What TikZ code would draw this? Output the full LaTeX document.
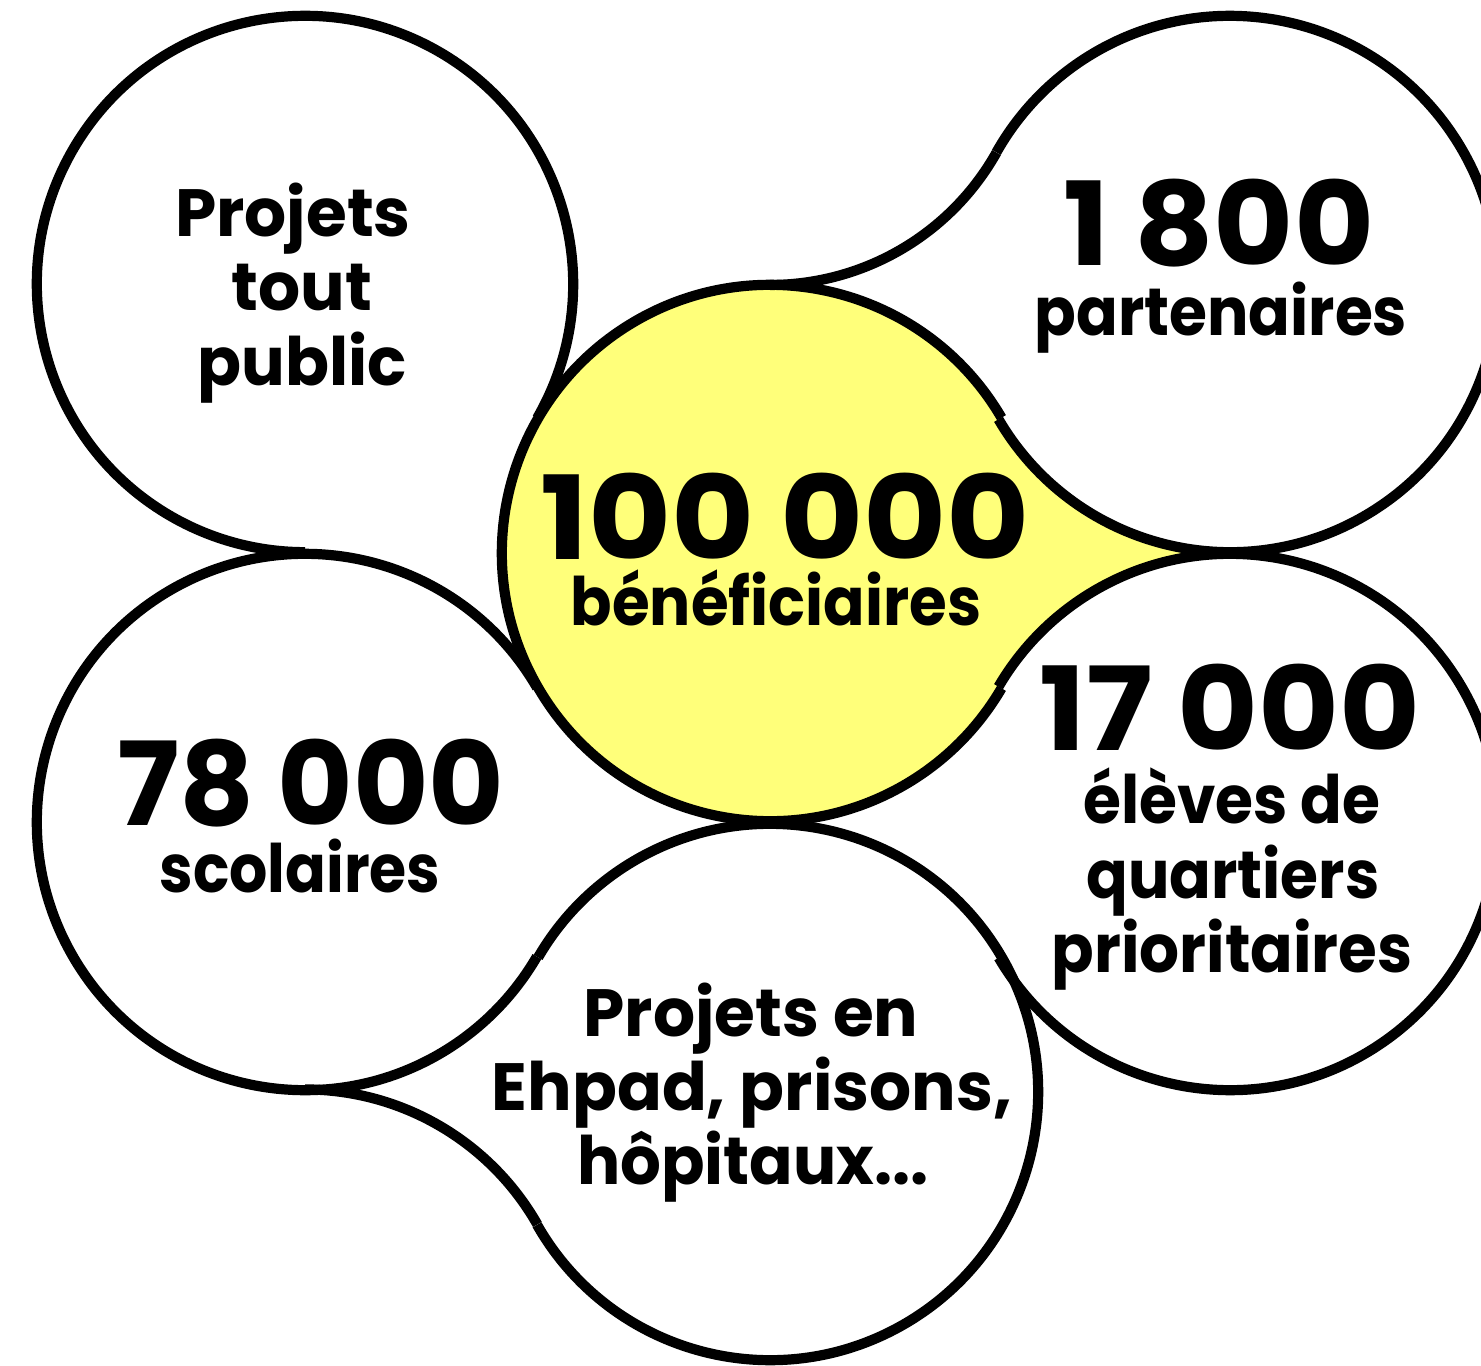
\documentclass[tikz,border=0pt]{standalone}
\usepackage{fontspec}
\setmainfont{Poppins}
\usetikzlibrary{calc}
\definecolor{hiyellow}{RGB}{255,255,122}
\begin{document}
\begin{tikzpicture}[x=0.01cm,y=0.01cm,
  outline/.style={draw=black,line width=2.9pt,line cap=butt},
  lbl/.style={font=\bfseries\fontsize{19}{19}\selectfont,anchor=base,inner sep=0pt},
  num/.style={font=\bfseries\fontsize{33}{33}\selectfont,anchor=base,inner sep=0pt,text depth=0pt}]
\useasboundingbox (0,0) rectangle (1481,1365);
\clip (0,0) rectangle (1481,1365);
\fill[white] (0,0) rectangle (1481,1365);
% circle centres (y up)
\coordinate (TL) at (305,1081);
\coordinate (L) at (305,543);
\coordinate (C) at (770,812);
\coordinate (B) at (770,273);
\coordinate (TR) at (1230,1081);
\coordinate (R) at (1230,543);
\coordinate (NT) at (770,1340);
\coordinate (NB) at (305,8);
% yellow region
\fill[hiyellow] ($(C)+(30.3:2.68cm)$) arc[start angle=30.3,end angle=329.7,radius=2.68cm]
  -- ($(R)+(149.7:2.68cm)$) arc[start angle=149.7,end angle=90,radius=2.68cm]
  -- ($(TR)+(270:2.68cm)$) arc[start angle=270,end angle=210.3,radius=2.68cm] -- cycle;
% outlines
\draw[outline] ($(TL)+(-30:2.68cm)$) arc[start angle=-30,end angle=270,radius=2.68cm];
\draw[outline] ($(L)+(30.05:2.68cm)$) arc[start angle=30.05,end angle=329.86,radius=2.68cm];
\draw[outline] ($(C)+(30.3:2.68cm)$) arc[start angle=30.3,end angle=329.7,radius=2.68cm];
\draw[outline] ($(TR)+(210.3:2.68cm)$) arc[start angle=210.3,end angle=510.6,radius=2.68cm];
\draw[outline] ($(R)+(210.4:2.68cm)$) arc[start angle=210.4,end angle=509.7,radius=2.68cm];
\draw[outline] ($(B)+(209.7:2.68cm)$) arc[start angle=209.7,end angle=509.86,radius=2.68cm];
\draw[outline] ($(NT)+(270:2.598cm)$) arc[start angle=270,end angle=330.6,radius=2.598cm];
\draw[outline] ($(NB)+(90:2.674cm)$) arc[start angle=90,end angle=29.7,radius=2.674cm];
% texts: top-left
\node[lbl] (tl1) at (293,1129) {\scalebox{0.99}[1]{Projets}};
\node[lbl] (tl2) at (302,1055) {\scalebox{0.99}[1]{tout}};
\node[lbl] (tl3) at (302,980) {\scalebox{0.97}[1]{public}};
% top-right
\node[num] (tr1) at (1219,1100) {\scalebox{1.06}[1]{1\hspace{0.2em}800}};
\node[lbl] (tr2) at (1221,1030) {\scalebox{0.92}[1]{partenaires}};
% centre
\node[num] (c1) at (785,806) {\scalebox{1.10}[1]{100\hspace{0.2em}000}};
\node[lbl] (c2) at (776,740) {\scalebox{0.915}[1]{bénéficiaires}};
% left
\node[num] (l1) at (311,540) {78\hspace{0.2em}000};
\node[lbl] (l2) at (300,473) {\scalebox{0.9}[1]{scolaires}};
% right
\node[num] (r1) at (1230,615) {\scalebox{1.07}[1]{17\hspace{0.2em}000}};
\node[lbl] (r2) at (1232,542) {\scalebox{0.92}[1]{élèves de}};
\node[lbl] (r3) at (1233,467) {\scalebox{0.92}[1]{quartiers}};
\node[lbl] (r4) at (1232,393) {\scalebox{0.94}[1]{prioritaires}};
% bottom
\node[lbl] (b1) at (751,329) {\scalebox{0.99}[1]{Projets en}};
\node[lbl] (b2) at (752,255) {\scalebox{0.99}[1]{Ehpad, prisons,}};
\node[lbl] (b3) at (753,181) {\scalebox{0.96}[1]{hôpitaux...}};
\end{tikzpicture}
\end{document}
